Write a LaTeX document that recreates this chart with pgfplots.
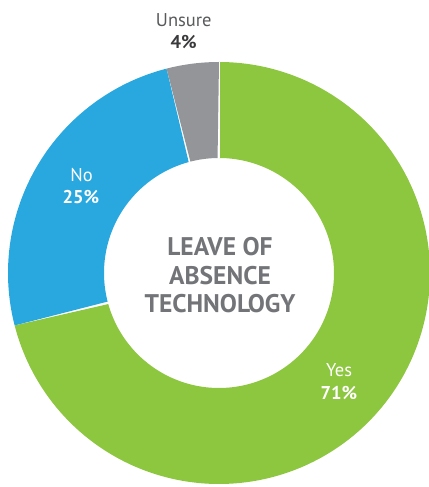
\documentclass[border=0pt]{standalone}
\usepackage{pgfplots}
\pgfplotsset{compat=1.18}
\usepackage{pgfplotstable}
\usepackage{fontspec}
\setmainfont{PT Sans}
\definecolor{cyes}{HTML}{8DC63F}
\definecolor{cno}{HTML}{29A8E0}
\definecolor{cunsure}{HTML}{939598}
\definecolor{ctitle}{HTML}{737477}
\definecolor{clab}{HTML}{58595B}
\definecolor{cval}{HTML}{3A3A3C}
\pgfplotstableread{
label value
Yes 71
No 25
Unsure 4
}\donutdata
\begin{document}
\begin{tikzpicture}
\pgfplotstablegetelem{0}{value}\of\donutdata \let\vyes\pgfplotsretval
\pgfplotstablegetelem{1}{value}\of\donutdata \let\vno\pgfplotsretval
\pgfplotstablegetelem{2}{value}\of\donutdata \let\vunsure\pgfplotsretval
\pgfmathsetmacro{\aA}{90}
\pgfmathsetmacro{\aB}{90-3.6*\vyes}
\pgfmathsetmacro{\aC}{\aB-3.6*\vno}
\pgfmathsetmacro{\aD}{\aC-3.6*\vunsure}
\def\cx{219}\def\cy{214}\def\Ro{211}\def\Ri{115}
\begin{axis}[
  at={(0,0)}, anchor=south west,
  width=429bp, height=487bp, scale only axis,
  xmin=0, xmax=429, ymin=0, ymax=487,
  hide axis,
]
% ring sectors: t in [0,1] outer arc from a to b, t in (1,2] inner arc back
\addplot[fill=cyes, draw=none, domain=0:2, samples=401, variable=\t]
  ({\cx + ifthenelse(\t<=1, \Ro, \Ri)*cos(ifthenelse(\t<=1, \aA + (\aB-\aA)*\t, \aB + (\aA-\aB)*(\t-1)))},
   {\cy + ifthenelse(\t<=1, \Ro, \Ri)*sin(ifthenelse(\t<=1, \aA + (\aB-\aA)*\t, \aB + (\aA-\aB)*(\t-1)))});
\addplot[fill=cno, draw=none, domain=0:2, samples=201, variable=\t]
  ({\cx + ifthenelse(\t<=1, \Ro, \Ri)*cos(ifthenelse(\t<=1, \aB + (\aC-\aB)*\t, \aC + (\aB-\aC)*(\t-1)))},
   {\cy + ifthenelse(\t<=1, \Ro, \Ri)*sin(ifthenelse(\t<=1, \aB + (\aC-\aB)*\t, \aC + (\aB-\aC)*(\t-1)))});
\addplot[fill=cunsure, draw=none, domain=0:2, samples=41, variable=\t]
  ({\cx + ifthenelse(\t<=1, \Ro, \Ri)*cos(ifthenelse(\t<=1, \aC + (\aD-\aC)*\t, \aD + (\aC-\aD)*(\t-1)))},
   {\cy + ifthenelse(\t<=1, \Ro, \Ri)*sin(ifthenelse(\t<=1, \aC + (\aD-\aC)*\t, \aD + (\aC-\aD)*(\t-1)))});
% white separator at top
\addplot[white, line width=0.6pt] coordinates {(219,329) (219,425)};
% center title
\node[anchor=base, text=ctitle, font=\fontsize{25.5bp}{28bp}\selectfont\bfseries] at (axis cs:220,231) {LEAVE OF};
\node[anchor=base, text=ctitle, font=\fontsize{25.5bp}{28bp}\selectfont\bfseries] at (axis cs:220,202) {ABSENCE};
\node[anchor=base, text=ctitle, font=\fontsize{25.5bp}{28bp}\selectfont\bfseries] at (axis cs:220,174) {TECHNOLOGY};
% labels
\node[anchor=base, text=clab, font=\fontsize{18.5bp}{22bp}\selectfont] at (axis cs:183.8,460.3) {Unsure};
\node[anchor=base, text=cval, font=\fontsize{18.5bp}{22bp}\selectfont\bfseries] at (axis cs:183.7,438.7) {4\%};
\node[anchor=base, text=white, font=\fontsize{18.5bp}{22bp}\selectfont] at (axis cs:81.5,305.3) {No};
\node[anchor=base, text=white, font=\fontsize{18.5bp}{22bp}\selectfont\bfseries] at (axis cs:81,283.7) {25\%};
\node[anchor=base, text=white, font=\fontsize{18.5bp}{22bp}\selectfont] at (axis cs:339.2,110.3) {Yes};
\node[anchor=base, text=white, font=\fontsize{18.5bp}{22bp}\selectfont\bfseries] at (axis cs:339,87) {71\%};
\end{axis}
\pgfresetboundingbox
\path[use as bounding box] (0,0) rectangle (429bp,487bp);
\end{tikzpicture}
\end{document}
